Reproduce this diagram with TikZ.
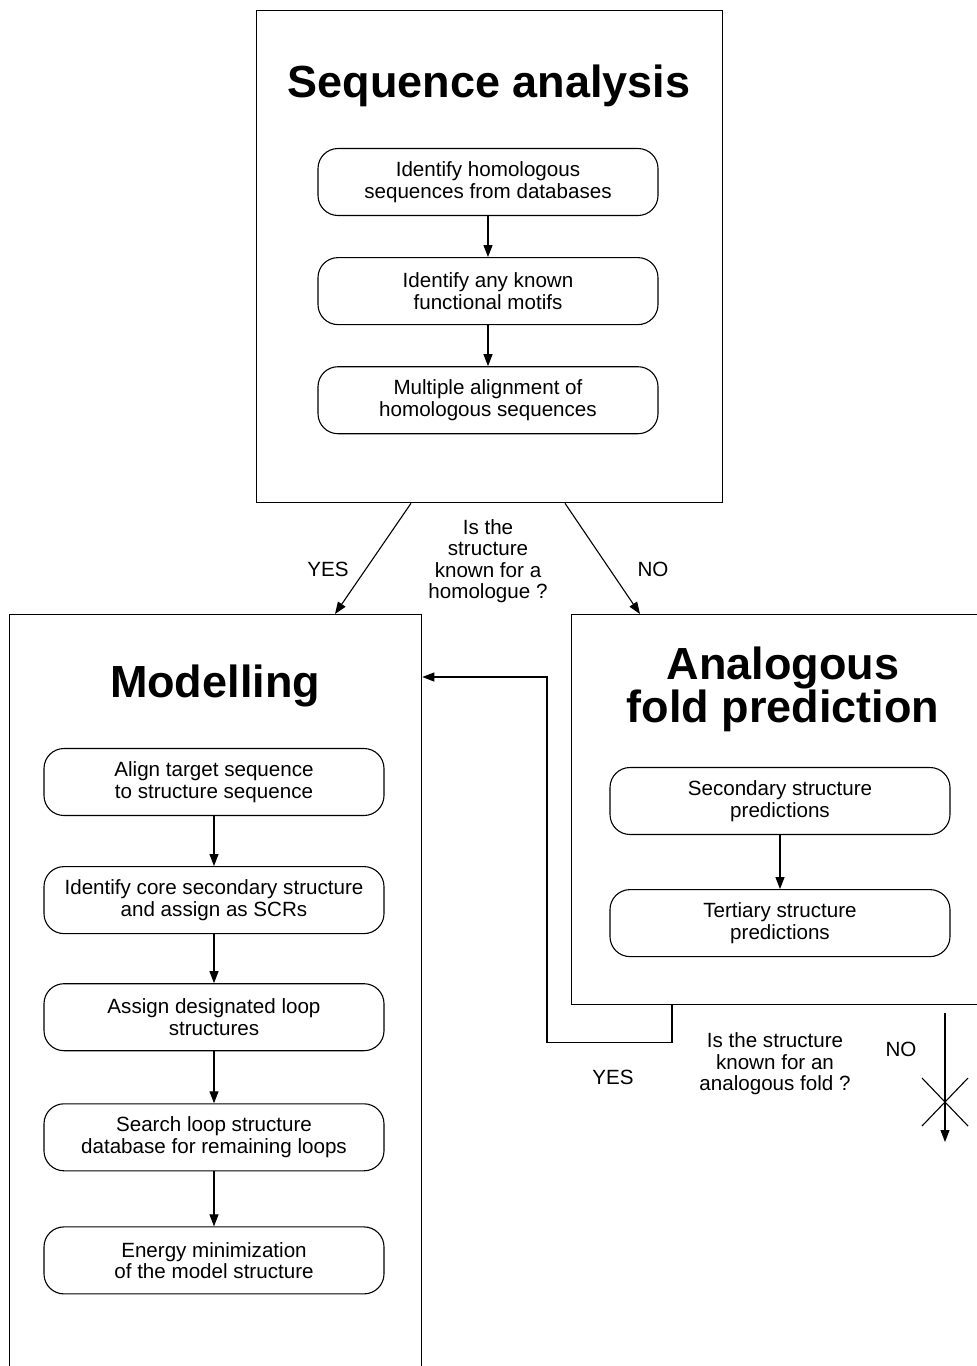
\documentclass[tikz,border=0pt]{standalone}
\usepackage{fontspec}
\setmainfont{Liberation Sans}
\usetikzlibrary{arrows.meta}
\usetikzlibrary{positioning}

\tikzset{
	panel/.style={draw, line width=1.3pt, anchor=north west, inner sep=0pt},
	task/.style={draw, line width=1.1pt, rounded corners=20pt, minimum width=340pt, minimum height=67pt, inner sep=0pt, align=center, font=\fontsize{20.6}{21.5}\selectfont},
	heading/.style={font=\fontsize{45}{43}\selectfont\bfseries, align=center, inner sep=0pt},
	note/.style={font=\fontsize{20.6}{21.5}\selectfont, align=center, inner sep=0pt},
	flow/.style={line width=1.1pt, -{Triangle[length=12pt,width=9pt]}}
}

\begin{document}
\begin{tikzpicture}[x=1pt,y=-1pt]
	\useasboundingbox (0,0) rectangle (977,1366);
	\clip (0,0) rectangle (977,1366);
	
	% the three panels
	\node[panel, minimum width=466pt, minimum height=492pt] (seq) at (256,10) {};
	\node[panel, minimum width=412pt, minimum height=780pt] (model) at (9,614) {};
	\node[panel, minimum width=420pt, minimum height=390pt] (fold) at (571,614) {};
	
	\node[heading, anchor=base] (seqtitle) at (489,97) {Sequence analysis};
	\node[heading, anchor=base] (modeltitle) at (215,697) {Modelling};
	\node[heading, anchor=base] (foldtitle) at (783,722) {Analogous\\fold prediction};
	
	% sequence analysis
	\node[task] (s1) at (488,182) {Identify homologous\\sequences from databases};
	\node[task, below=41pt of s1] (s2) {Identify any known\\functional motifs};
	\node[task, below=41pt of s2] (s3) {Multiple alignment of\\homologous sequences};
	\draw[flow] (s1) -- (s2);
	\draw[flow] (s2) -- (s3);
	
	% modelling
	\node[task] (m1) at (214,782) {Align target sequence\\to structure sequence};
	\node[task, below=50pt of m1] (m2) {Identify core secondary structure\\and assign as SCRs};
	\node[task, below=49pt of m2] (m3) {Assign designated loop\\structures};
	\node[task, below=52pt of m3] (m4) {Search loop structure\\database for remaining loops};
	\node[task, below=55pt of m4] (m5) {Energy minimization\\of the model structure};
	\draw[flow] (m1) -- (m2);
	\draw[flow] (m2) -- (m3);
	\draw[flow] (m3) -- (m4);
	\draw[flow] (m4) -- (m5);
	
	% analogous fold prediction
	\node[task] (f1) at (780,801) {Secondary structure\\predictions};
	\node[task, below=54pt of f1] (f2) {Tertiary structure\\predictions};
	\draw[flow] (f1) -- (f2);
	
	% decisions
	\node[note] (ask1) at (488,561) {Is the\\structure\\known for a\\homologue ?};
	\node[note] (yes1) at (328,569) {YES};
	\node[note] (no1) at (653,569) {NO};
	\draw[flow] ([xshift=155pt]seq.south west) -- ([xshift=326pt]model.north west);
	\draw[flow] ([xshift=309pt]seq.south west) -- ([xshift=69pt]fold.north west);
	
	\node[note] (ask2) at (775,1064) {Is the structure\\known for an\\analogous fold ?};
	\node[note] (yes2) at (613,1077) {YES};
	\node[note] (no2) at (901,1049) {NO};
	\draw[flow] ([xshift=101pt]fold.south west) |- ++(-125,37) |- ([yshift=-63pt]model.north east);
	
	\coordinate (dead) at (945,1142);
	\coordinate (stop) at (945,1102);
	\draw[flow] ([xshift=374pt,yshift=-8pt]fold.south west) -- (dead);
	\draw[line width=1.1pt] (stop) +(-23,-24) -- +(23,24)
	(stop) +(-23,24) -- +(23,-24);
	
\end{tikzpicture}
\end{document}
